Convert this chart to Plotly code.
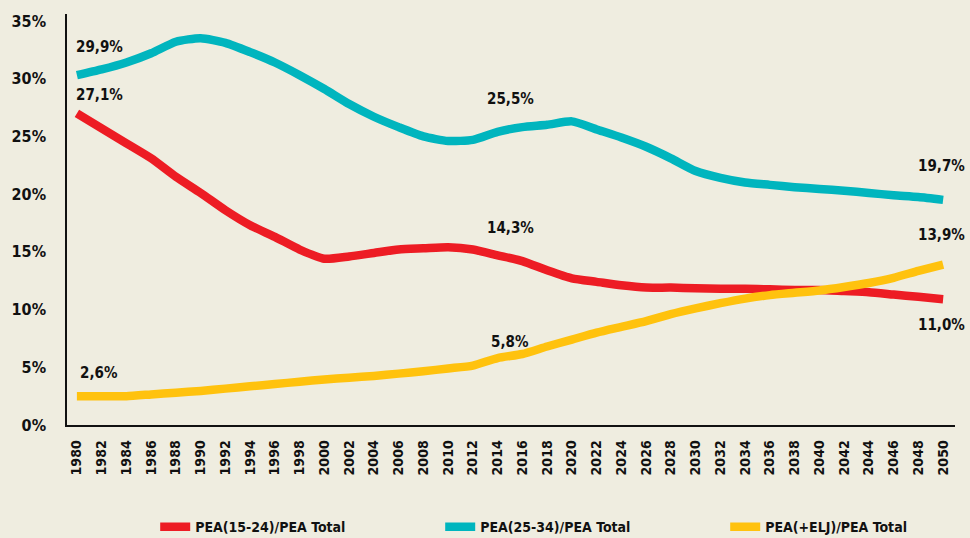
import plotly.graph_objects as go

years = list(range(1980, 2051, 2))

pea_15_24 = [27.0, 25.7, 24.4, 23.1, 21.5, 20.1, 18.6, 17.3, 16.3, 15.2, 14.4,
             14.6, 14.9, 15.2, 15.3, 15.4, 15.2, 14.7, 14.2, 13.4, 12.7, 12.4,
             12.1, 11.9, 11.9, 11.85, 11.8, 11.8, 11.75, 11.7, 11.7, 11.6, 11.5,
             11.3, 11.1, 10.9]

pea_25_34 = [30.3, 30.8, 31.4, 32.2, 33.2, 33.5, 33.1, 32.3, 31.4, 30.3, 29.1,
             27.8, 26.7, 25.8, 25.0, 24.6, 24.7, 25.4, 25.8, 26.0, 26.3, 25.6,
             24.9, 24.1, 23.1, 22.0, 21.4, 21.0, 20.8, 20.6, 20.45, 20.3, 20.1,
             19.9, 19.75, 19.5]

pea_elj = [2.5, 2.5, 2.5, 2.65, 2.8, 2.95, 3.15, 3.35, 3.55, 3.75, 3.95,
           4.1, 4.25, 4.45, 4.65, 4.9, 5.15, 5.8, 6.15, 6.8, 7.4, 8.0,
           8.5, 9.0, 9.6, 10.1, 10.55, 10.95, 11.25, 11.45, 11.65, 11.95, 12.3,
           12.75, 13.35, 13.9]

series_names = ["PEA(15-24)/PEA Total", "PEA(25-34)/PEA Total", "PEA(+ELJ)/PEA Total"]
series_colors = ["#ED1C24", "#00B5BE", "#FFC20E"]

y_ticks = [0, 5, 10, 15, 20, 25, 30, 35]
y_tick_labels = ["0%", "5%", "10%", "15%", "20%", "25%", "30%", "35%"]

label_texts = ["29,9%", "27,1%", "2,6%", "25,5%", "14,3%", "5,8%"]
label_x = [1981.8, 1981.8, 1981.8, 2015.0, 2015.0, 2015.0]
label_y = [32.7, 28.6, 4.5, 28.2, 17.1, 7.2]

end_texts = ["19,7%", "13,9%", "11,0%"]
end_y = [22.4, 16.5, 8.7]

FONT = "DejaVu Sans Condensed, Liberation Sans Narrow, sans-serif"
BG = "#EFEDE0"

fig = go.Figure()
for name, vals, col in zip(series_names, [pea_15_24, pea_25_34, pea_elj], series_colors):
    fig.add_trace(go.Scatter(
        x=years, y=vals, name="<b>" + name + "</b>", mode="lines",
        line=dict(color=col, width=8.5, shape="spline", smoothing=0.6),
    ))

for t, x, y in zip(label_texts, label_x, label_y):
    fig.add_annotation(x=x, y=y, text="<b>" + t + "</b>", showarrow=False,
                       font=dict(family=FONT, size=15, color="#111111"))

for t, y in zip(end_texts, end_y):
    fig.add_annotation(xref="paper", x=1.013, y=y, text="<b>" + t + "</b>", showarrow=False,
                       xanchor="right", font=dict(family=FONT, size=15, color="#111111"))

fig.update_layout(
    width=970, height=538,
    paper_bgcolor=BG, plot_bgcolor=BG,
    margin=dict(l=60, r=15, t=14, b=113),
    font=dict(family=FONT, color="#111111"),
    showlegend=True,
    legend=dict(orientation="h", xref="container", x=0.16, xanchor="left",
                yref="container", y=0.02, yanchor="middle",
                font=dict(family=FONT, size=14, color="#111111"),
                entrywidth=240, entrywidthmode="pixels",
                bgcolor="rgba(0,0,0,0)"),
    xaxis=dict(range=[1979.2, 2050.96], tickvals=years,
               ticktext=["<b>%d</b>" % y for y in years], tickangle=-90,
               tickfont=dict(family=FONT, size=14, color="#111111"),
               showgrid=False, zeroline=False, showline=True, linecolor="#111111",
               linewidth=1.5, ticks="", ticklabelstandoff=8),
    yaxis=dict(range=[0, 35.6], tickvals=y_ticks,
               ticktext=["<b>%s</b>" % s for s in y_tick_labels],
               tickfont=dict(family=FONT, size=16, color="#111111"),
               showgrid=False, zeroline=False, showline=True, linecolor="#111111",
               linewidth=1.5, ticks="", ticklabelstandoff=16),
)

fig.write_html("out.html", config={"displayModeBar": False},
               post_script="document.body.style.margin='0';document.body.style.background='%s';" % BG)
